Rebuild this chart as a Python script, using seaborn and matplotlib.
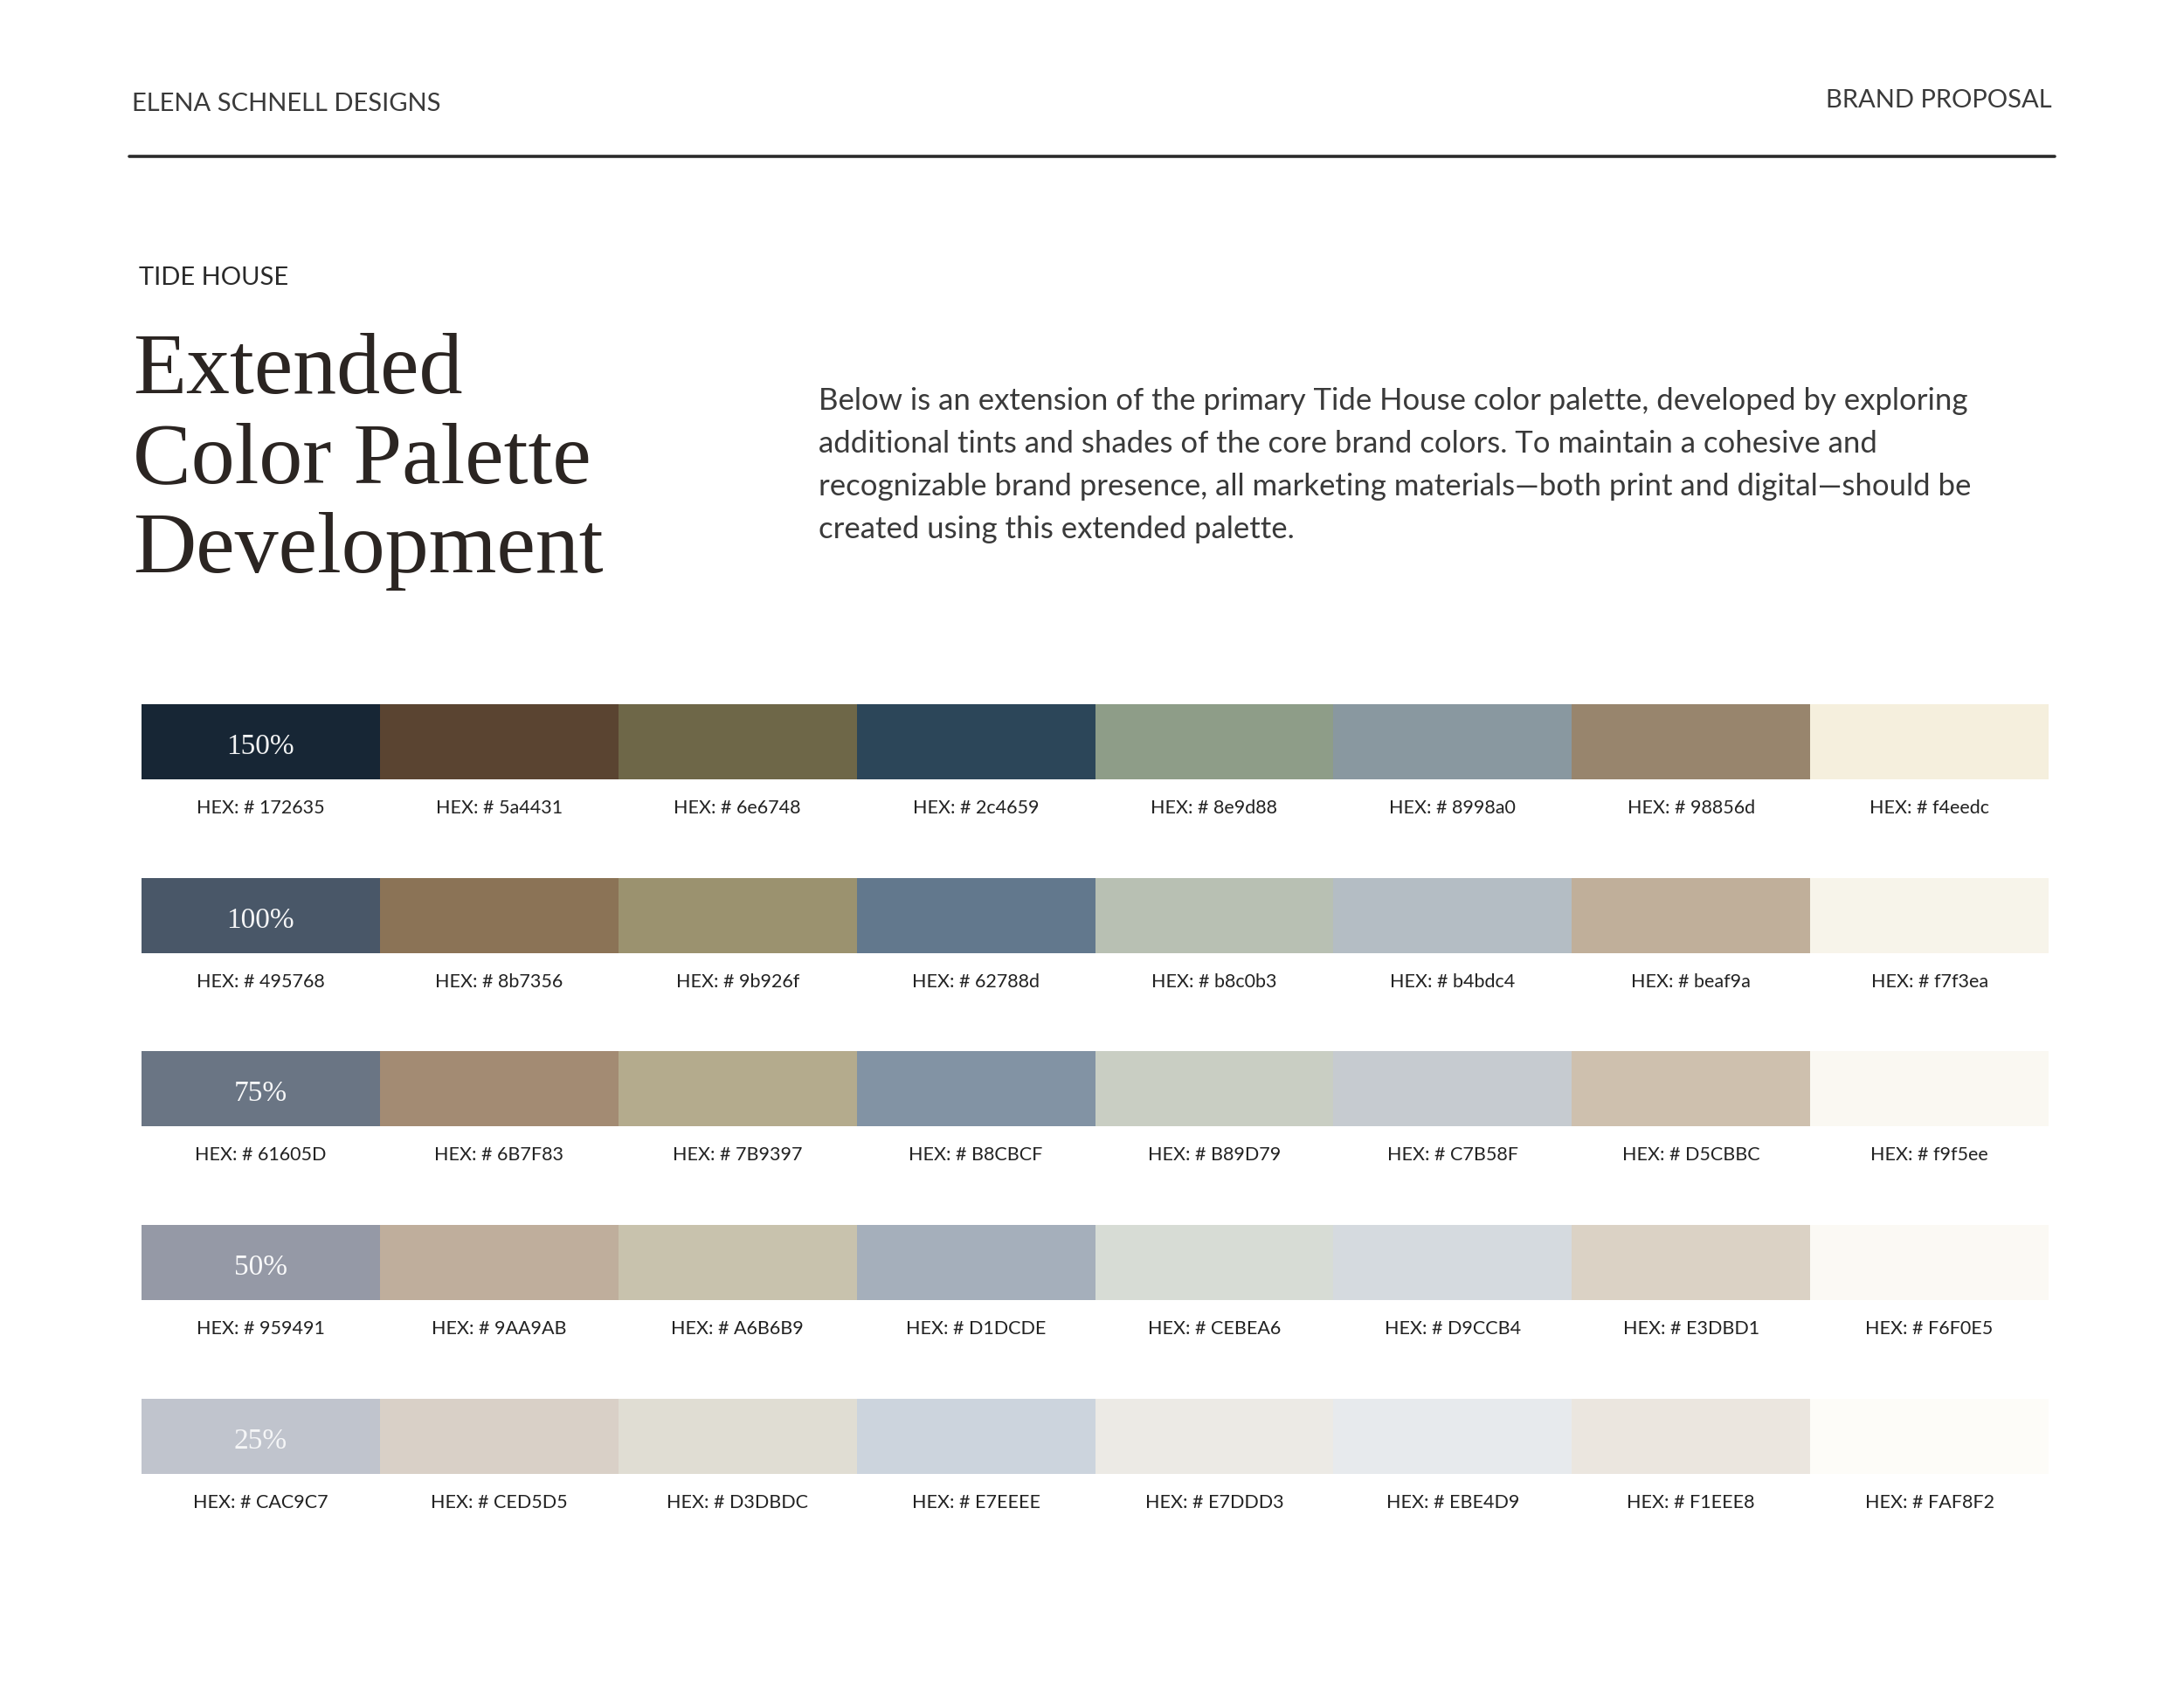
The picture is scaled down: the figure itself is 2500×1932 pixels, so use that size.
import numpy as np
import matplotlib
matplotlib.use("Agg")
import matplotlib.pyplot as plt
from matplotlib.colors import ListedColormap
from matplotlib.lines import Line2D
import seaborn as sns

# ---------------- data ----------------
shade_labels = ["150%", "100%", "75%", "50%", "25%"]

swatch_150 = ["#172635", "#5a4431", "#6e6748", "#2c4659", "#8e9d88", "#8998a0", "#98856d", "#f5efdd"]
swatch_100 = ["#495768", "#8b7356", "#9b926f", "#62788d", "#b8c0b3", "#b4bdc4", "#c0af9a", "#f7f4ea"]
swatch_75 = ["#6a7584", "#a38b73", "#b4ab8d", "#8293a4", "#c9cec3", "#c6cbd0", "#cec0ae", "#faf8f2"]
swatch_50 = ["#9599a6", "#bfae9c", "#c8c2ad", "#a5afbb", "#d7dcd5", "#d5dadf", "#dbd2c5", "#fbf9f4"]
swatch_25 = ["#c0c4cd", "#d9d0c7", "#e0ddd3", "#ccd4dd", "#eceae5", "#e7eaed", "#ebe6df", "#fdfcf8"]

hex_150 = ["172635", "5a4431", "6e6748", "2c4659", "8e9d88", "8998a0", "98856d", "f4eedc"]
hex_100 = ["495768", "8b7356", "9b926f", "62788d", "b8c0b3", "b4bdc4", "beaf9a", "f7f3ea"]
hex_75 = ["61605D", "6B7F83", "7B9397", "B8CBCF", "B89D79", "C7B58F", "D5CBBC", "f9f5ee"]
hex_50 = ["959491", "9AA9AB", "A6B6B9", "D1DCDE", "CEBEA6", "D9CCB4", "E3DBD1", "F6F0E5"]
hex_25 = ["CAC9C7", "CED5D5", "D3DBDC", "E7EEEE", "E7DDD3", "EBE4D9", "F1EEE8", "FAF8F2"]

swatch_rows = [swatch_150, swatch_100, swatch_75, swatch_50, swatch_25]
hex_rows = [hex_150, hex_100, hex_75, hex_50, hex_25]

header_left = "ELENA SCHNELL DESIGNS"
header_right = "BRAND PROPOSAL"
eyebrow = "TIDE HOUSE"
title_lines = ["Extended", "Color Palette", "Development"]
body_lines = [
    "Below is an extension of the primary Tide House color palette, developed by exploring",
    "additional tints and shades of the core brand colors. To maintain a cohesive and",
    "recognizable brand presence, all marketing materials\u2014both print and digital\u2014should be",
    "created using this extended palette.",
]

# ---------------- figure ----------------
sns.set_theme(style="white")
plt.rcParams["font.family"] = ["Lato", "DejaVu Sans"]

W, H = 2500, 1932
fig = plt.figure(figsize=(W / 100, H / 100), dpi=100, facecolor="white")

def fx(px):
    return px / W

def fy(py):
    return 1 - py / H

fig.text(fx(151), fy(119), header_left, fontsize=21, fontweight="normal",
         color="#3a3a3a", ha="left", va="center")
fig.text(fx(2349), fy(115), header_right, fontsize=21, fontweight="normal",
         color="#3a3a3a", ha="right", va="center")
fig.add_artist(Line2D([fx(148), fx(2352)], [fy(179), fy(179)], color="#2a2a2a", lw=2.6))

fig.text(fx(159), fy(318), eyebrow, fontsize=21, fontweight="normal",
         color="#2a2a2a", ha="left", va="center")

title_baselines = [450, 552, 655]
for line, yb in zip(title_lines, title_baselines):
    fig.text(fx(152), fy(yb), line, fontsize=72, family=["Liberation Serif"],
             color="#2b2522", ha="left", va="baseline")

body_centers = [459, 508, 557, 606]
for line, yc in zip(body_lines, body_centers):
    fig.text(fx(937), fy(yc), line, fontsize=25, fontweight="normal",
             color="#3a3a3a", ha="left", va="center")

# ---------------- swatch rows ----------------
left, right = 162, 2345
row_tops = [806, 1005, 1203, 1402, 1601]
row_h = 86
label_offset = 33  # px below the swatch

for r, (cols, hexes, pct, top) in enumerate(zip(swatch_rows, hex_rows, shade_labels, row_tops)):
    ax = fig.add_axes([fx(left), fy(top + row_h), fx(right - left), row_h / H])
    n = len(cols)
    data = np.arange(n).reshape(1, n)
    sns.heatmap(data, cmap=ListedColormap(cols), vmin=-0.5, vmax=n - 0.5,
                cbar=False, ax=ax, xticklabels=False, yticklabels=False,
                linewidths=0)
    ax.set_xlabel("")
    ax.set_ylabel("")
    for s in ax.spines.values():
        s.set_visible(False)
    ax.text(0.5, 0.57, pct, color="white", fontsize=24, family=["Liberation Serif"],
            ha="center", va="center", alpha=0.95 if r < 4 else 0.85)
    for i, hx in enumerate(hexes):
        ax.text(i + 0.5, 1 + label_offset / row_h, "HEX: # " + hx, fontsize=15.5,
                fontweight="normal", color="#222222", ha="center", va="center",
                clip_on=False)

fig.savefig("out.png", dpi=100, facecolor="white")
